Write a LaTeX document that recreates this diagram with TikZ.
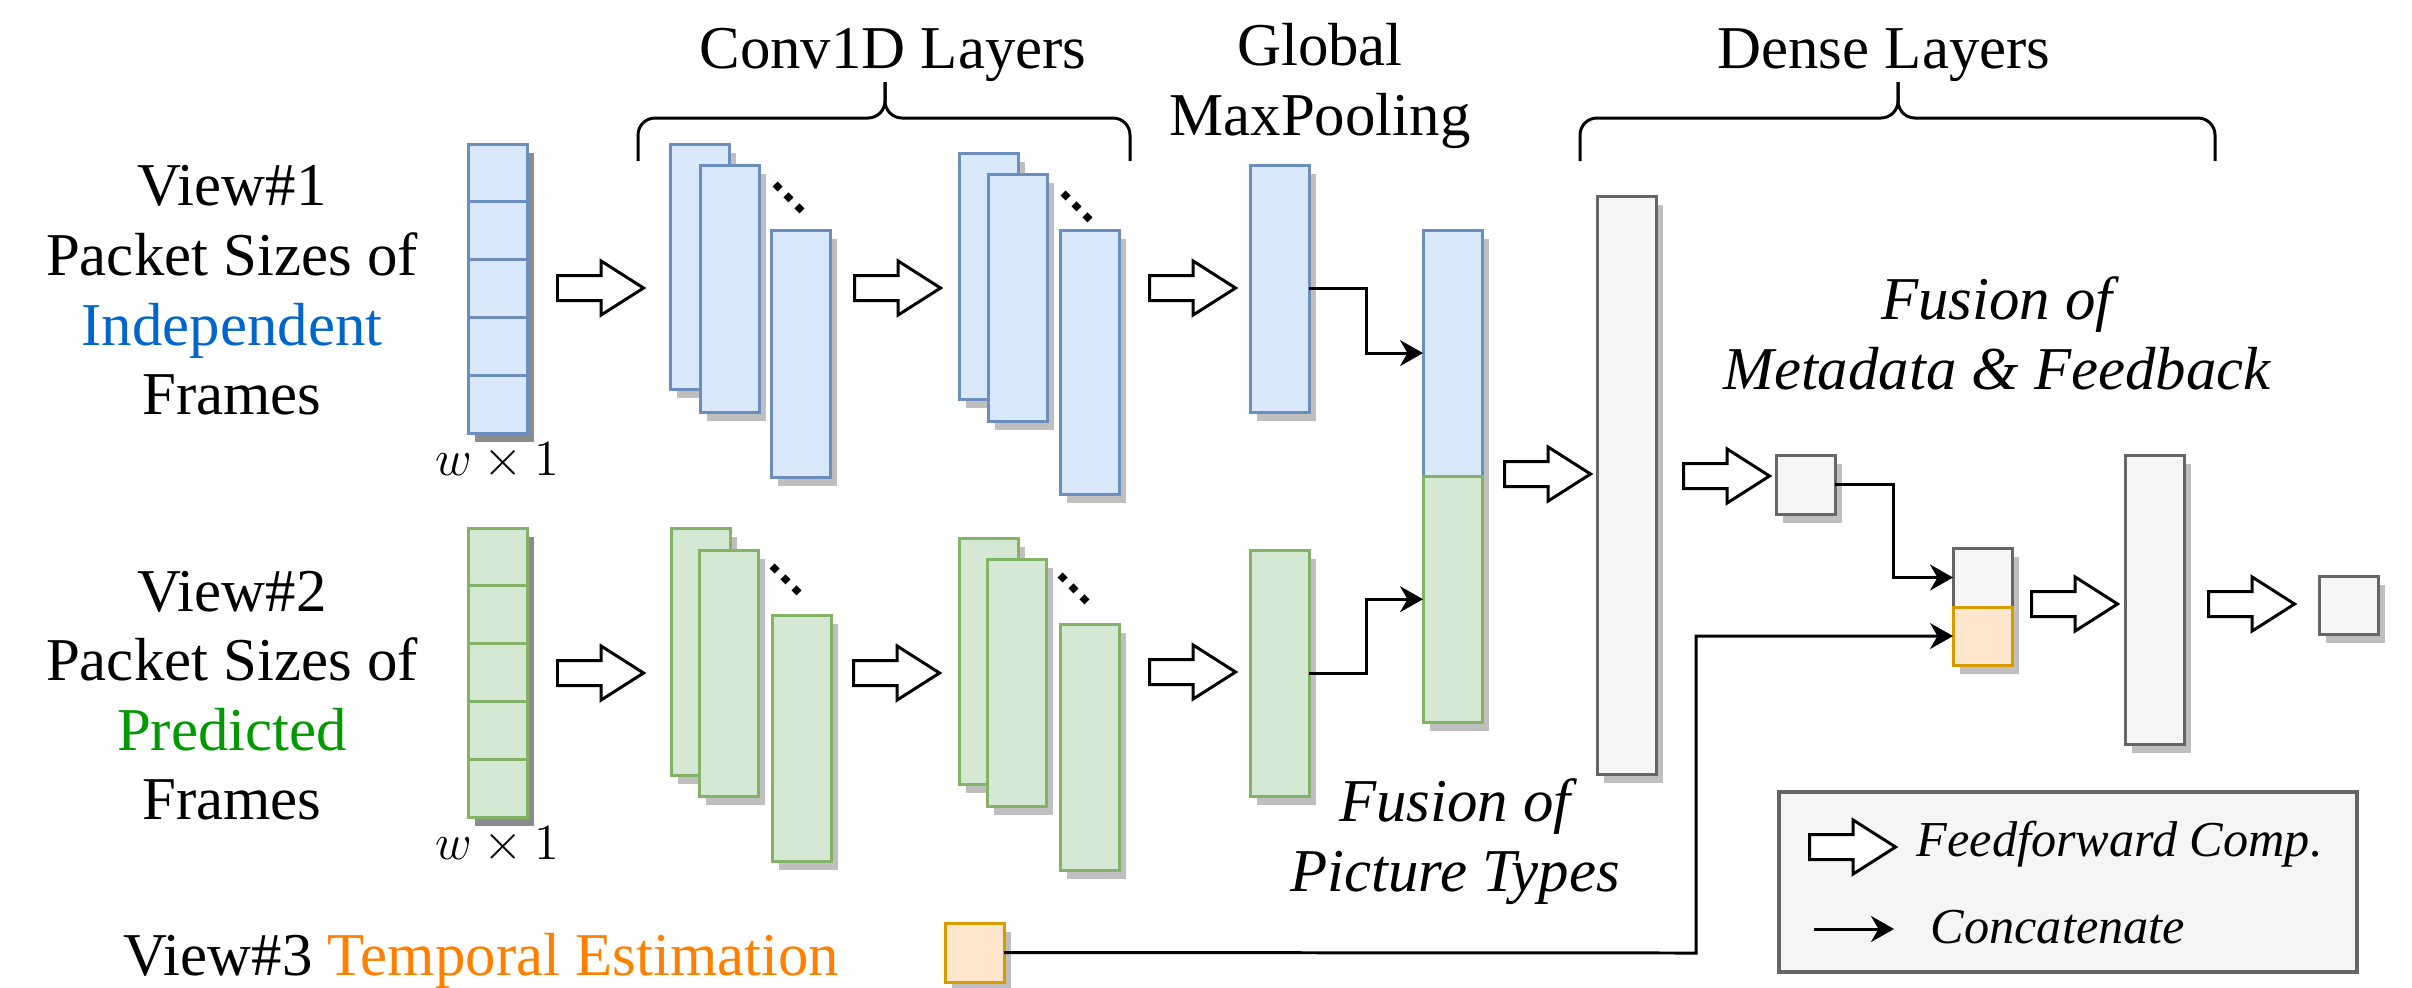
\documentclass[tikz,border=0pt]{standalone}
\usepackage[no-math]{fontspec}
\setmainfont{Liberation Serif}
\usepackage{tikz}
\usetikzlibrary{positioning, arrows.meta, calc, shapes.arrows, shadows}
\definecolor{myblue}{HTML}{DAE8FC}
\definecolor{blueline}{HTML}{6C8EBF}
\definecolor{mygreen}{HTML}{D5E8D4}
\definecolor{greenline}{HTML}{82B366}
\definecolor{mygray}{HTML}{F5F5F5}
\definecolor{grayline}{HTML}{666666}
\definecolor{myorange}{HTML}{FFE6CC}
\definecolor{orangeline}{HTML}{D79B00}
\definecolor{indblue}{HTML}{0066CC}
\definecolor{predgreen}{HTML}{009900}
\definecolor{tmporange}{HTML}{FF8000}

\begin{document}
\begin{tikzpicture}[x=0.01cm, y=-0.01cm,
    shdw/.style={drop shadow={shadow xshift=0.07cm, shadow yshift=-0.09cm, fill=#1, opacity=1}},
    shdw/.default=black!25,
    box/.style={draw, rectangle, inner sep=0, outer sep=0, line width=0.85pt, minimum width=0.59cm, anchor=north west},
    bbox/.style={box, shdw, fill=myblue, draw=blueline},
    gbox/.style={box, shdw, fill=mygreen, draw=greenline},
    wbox/.style={box, shdw, fill=mygray, draw=grayline},
    obox/.style={box, shdw, fill=myorange, draw=orangeline},
    bcell/.style={box, shdw=black!45, fill=myblue, draw=blueline, minimum height=0.578cm},
    gcell/.style={box, shdw=black!45, fill=mygreen, draw=greenline, minimum height=0.578cm},
    ff/.style={single arrow, draw, fill=white, line width=0.85pt, inner xsep=0, inner ysep=0.11cm,
        minimum height=0.86cm, single arrow head extend=0.145cm, single arrow tip angle=65, anchor=tail},
    cat/.style={-{Stealth[length=0.23cm, width=0.26cm]}, line width=0.85pt},
    dots/.style={line width=2pt, dash pattern=on 2pt off 2.4pt},
    brace/.style={line width=0.85pt, rounded corners=0.17cm},
    lbl/.style={align=center, inner sep=0, font=\fontsize{17.3}{19.8}\selectfont},
    itl/.style={lbl, font=\fontsize{17.3}{19.8}\selectfont\itshape},
    leg/.style={inner sep=0, font=\fontsize{14.3}{16}\selectfont\itshape}]
\useasboundingbox (0,0) rectangle (2412,987);

% view labels
\node[lbl, anchor=north] (v1) at (232,165) {View\#1\\ Packet Sizes of\\ \textcolor{indblue}{Independent}\\ Frames};
\node[lbl, anchor=north] (v2) at (232,570) {View\#2\\ Packet Sizes of\\ \textcolor{predgreen}{Predicted}\\ Frames};
\node[lbl, anchor=base west] (v3) at (123,975) {View\#3 \textcolor{tmporange}{Temporal Estimation}};

% inputs
\node[bcell] (in1a) at (468,144) {};
\node[bcell, below=0cm of in1a] (in1b) {};
\node[bcell, below=0cm of in1b] (in1c) {};
\node[bcell, below=0cm of in1c] (in1d) {};
\node[bcell, below=0cm of in1d] (in1e) {};
\node[inner sep=1pt, below=0.05cm of in1e, font=\fontsize{15.4}{17}\selectfont] (w1) {$w \times 1$};
\node[gcell] (in2a) at (468,528) {};
\node[gcell, below=0cm of in2a] (in2b) {};
\node[gcell, below=0cm of in2b] (in2c) {};
\node[gcell, below=0cm of in2c] (in2d) {};
\node[gcell, below=0cm of in2d] (in2e) {};
\node[inner sep=1pt, below=0.05cm of in2e, font=\fontsize{15.4}{17}\selectfont] (w2) {$w \times 1$};
\node[obox, minimum height=0.59cm] (tmp) at (945,923) {};

% conv1d stacks
\node[bbox, minimum height=2.45cm] (c1a) at (670,144) {};
\node[bbox, minimum height=2.47cm] (c1b) at (700,165) {};
\node[bbox, minimum height=2.47cm] (c1c) at (771,230) {};
\node[bbox, minimum height=2.46cm] (c2a) at (959,153) {};
\node[bbox, minimum height=2.47cm] (c2b) at (988,174) {};
\node[bbox, minimum height=2.64cm] (c2c) at (1060,230) {};
\node[gbox, minimum height=2.47cm] (g1a) at (671,528) {};
\node[gbox, minimum height=2.46cm] (g1b) at (699,550) {};
\node[gbox, minimum height=2.46cm] (g1c) at (772,615) {};
\node[gbox, minimum height=2.46cm] (g2a) at (959,538) {};
\node[gbox, minimum height=2.47cm] (g2b) at (987,559) {};
\node[gbox, minimum height=2.46cm] (g2c) at (1060,624) {};
\draw[dots] ($(c1b.north east)+(16,19)$) -- ++(27,27);
\draw[dots] ($(c2b.north east)+(16,19)$) -- ++(27,27);
\draw[dots] ($(g1b.north east)+(14,16)$) -- ++(27,27);
\draw[dots] ($(g2b.north east)+(14,16)$) -- ++(27,27);

% pooling, fusion, dense
\node[bbox, minimum height=2.47cm] (mp1) at (1250,165) {};
\node[gbox, minimum height=2.46cm] (mp2) at (1250,550) {};
\node[bbox, minimum height=2.46cm] (fus1) at (1423,230) {};
\node[gbox, minimum height=2.46cm, below=0cm of fus1] (fus2) {};
\node[wbox, minimum height=5.78cm] (d1) at (1597,196) {};
\node[wbox, minimum height=0.59cm] (sm) at (1776,455) {};
\node[wbox, minimum height=0.59cm] (cat1) at (1953,548) {};
\node[obox, minimum height=0.58cm, below=0cm of cat1] (cat2) {};
\node[wbox, minimum height=2.89cm] (d2) at (2125,455) {};
\node[wbox, minimum height=0.58cm] (out) at (2319,576) {};

% feedforward arrows (placed by their tails)
\node[ff] (a1) at (556,288) {};
\node[ff] (a2) at (853,288) {};
\node[ff] (a3) at (1148,288) {};
\node[ff] (b1) at (556,673) {};
\node[ff] (b2) at (852,673) {};
\node[ff] (b3) at (1148,672) {};
\node[ff] (a4) at (1503,474) {};
\node[ff] (a5) at (1682,476) {};
\node[ff] (a6) at (2030,604) {};
\node[ff] (a7) at (2207,604) {};

% concatenation
\draw[cat] (mp1.east) -- ++(57,0) |- (fus1.west);
\draw[cat] (mp2.east) -- ++(57,0) |- (fus2.west);
\draw[cat] (sm.east) -- ++(58,0) |- (cat1.west);
\coordinate (tbend) at (1696,953);
\draw[cat] (tmp.east) -- (tbend) |- (cat2.west);

% braces and titles
\draw[brace] (638,161) -- (638,118) -- (885,118) -- (885,82);
\draw[brace] (1130,161) -- (1130,118) -- (885,118) -- (885,82);
\draw[brace] (1580,161) -- (1580,118) -- (1898,118) -- (1898,82);
\draw[brace] (2215,161) -- (2215,118) -- (1898,118) -- (1898,82);
\node[lbl, anchor=base] (t1) at (893,68) {Conv1D Layers};
\node[lbl, anchor=north] (t2) at (1320,23) {Global\\ MaxPooling};
\node[lbl, anchor=base] (t3) at (1884,68) {Dense Layers};
\node[itl, anchor=north] (f1) at (1455,778) {Fusion of\\ Picture Types};
\node[itl, anchor=north] (f2) at (1997,276) {Fusion of\\ Metadata \& Feedback};

% legend
\node[box, fill=mygray, draw=black!60, line width=1.2pt, minimum width=5.78cm, minimum height=1.80cm] (leg) at (1779,792) {};
\node[ff] (lff) at (1808,847) {};
\node[leg, anchor=base west] (lt1) at (1916,856) {Feedforward Comp.};
\coordinate (lca) at (1814,929);
\coordinate (lcb) at (1894,929);
\draw[cat] (lca) -- (lcb);
\node[leg, anchor=base west] (lt2) at (1930,943) {Concatenate};
\end{tikzpicture}
\end{document}
